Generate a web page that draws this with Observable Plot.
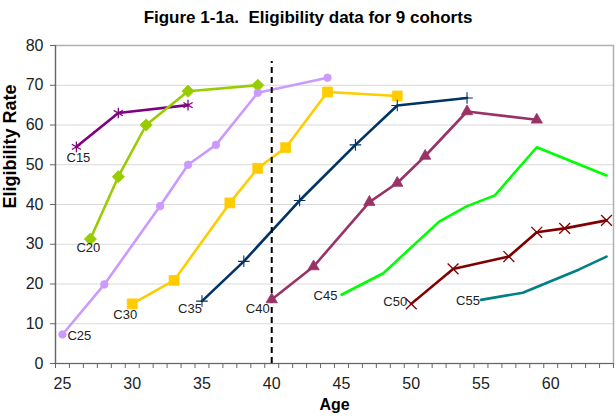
<!DOCTYPE html>
<html><head><meta charset="utf-8">
<script src="https://cdn.jsdelivr.net/npm/d3@7"></script>
<script src="https://cdn.jsdelivr.net/npm/@observablehq/plot@0.6"></script>
<style>
body{margin:0;background:#fff;font-family:"Liberation Sans",Arial,sans-serif;}
#title{width:616px;height:36px;line-height:36px;text-align:center;font-weight:bold;font-size:17px;color:#000;white-space:pre;}
</style></head><body>
<div id="title">Figure 1-1a.  Eligibility data for 9 cohorts</div>
<div id="chart"></div>
<script>
// ---- data ----
const cohorts = ["C15","C20","C25","C30","C35","C40","C45","C50","C55"];
const c15Age = [26, 29, 34];
const c15Rate = [54.5, 63, 65];
const c20Age = [27, 29, 31, 34, 39];
const c20Rate = [31.3, 47, 60, 68.5, 70];
const c25Age = [25, 28, 32, 34, 36, 39, 44];
const c25Rate = [7.3, 19.9, 39.6, 50, 55, 68.1, 71.9];
const c30Age = [30, 33, 37, 39, 41, 44, 49];
const c30Rate = [15, 20.9, 40.4, 49.1, 54.3, 68.3, 67.3];
const c35Age = [35, 38, 42, 46, 49, 54];
const c35Rate = [15.7, 25.7, 41, 55, 64.9, 66.8];
const c40Age = [40, 43, 47, 49, 51, 54, 59];
const c40Rate = [16.1, 24.4, 40.6, 45.4, 52.2, 63.4, 61.3];
const c45Age = [45, 48, 52, 54, 56, 59, 64];
const c45Rate = [17.3, 22.7, 35.7, 39.6, 42.3, 54.4, 47.3];
const c50Age = [50, 53, 57, 59, 61, 64];
const c50Rate = [15, 23.8, 26.9, 33, 34, 36];
const c55Age = [55, 58, 62, 64];
const c55Rate = [16, 17.8, 23.6, 26.9];
const xTickLabels = [25, 30, 35, 40, 45, 50, 55, 60];
const yTickLabels = [0, 10, 20, 30, 40, 50, 60, 70, 80];
const firstAge = 25, lastAge = 64;
const cutoffAge = 40;

// ---- build table ----
const ageArrays = [c15Age, c20Age, c25Age, c30Age, c35Age, c40Age, c45Age, c50Age, c55Age];
const rateArrays = [c15Rate, c20Rate, c25Rate, c30Rate, c35Rate, c40Rate, c45Rate, c50Rate, c55Rate];
const rows = cohorts.flatMap((c, k) => ageArrays[k].map((a, i) => ({cohort: c, age: a, rate: rateArrays[k][i]})));
const firsts = cohorts.map((c, k) => ({cohort: c, age: ageArrays[k][0], rate: rateArrays[k][0]}));
const boundaries = d3.range(firstAge - 0.5, lastAge + 1, 1);

// ---- styles ----
const colors = {C15:"#800080", C20:"#99CC00", C25:"#CC99FF", C30:"#FFCC00", C35:"#003366",
                C40:"#993366", C45:"#00FF00", C50:"#800000", C55:"#008080"};
const markers = {
  C15:{symbol:"asterisk", r:5, filled:false, sw:1.3},
  C20:{symbol:"diamond2", r:5.5, filled:true, sw:0.8},
  C25:{symbol:"circle", r:3.8, filled:true, sw:0.8},
  C30:{symbol:"square", r:5.6, filled:true, sw:0.8},
  C35:{symbol:"plus", r:3.8, filled:false, sw:1.1},
  C40:{symbol:"triangle", r:4.2, filled:true, sw:0.8},
  C50:{symbol:"times", r:5, filled:false, sw:1.3}
};
const labelPos = {
  C15:{dx:2, dy:11, anchor:"middle"},
  C20:{dx:-2, dy:9, anchor:"middle"},
  C25:{dx:5, dy:1, anchor:"start"},
  C30:{dx:-7, dy:11, anchor:"middle"},
  C35:{dx:0, dy:8, anchor:"end"},
  C40:{dx:-2, dy:9, anchor:"end"},
  C45:{dx:-4, dy:1, anchor:"end"},
  C50:{dx:-4, dy:-2, anchor:"end"},
  C55:{dx:-1, dy:1, anchor:"end"}
};

const marks = [
  Plot.ruleY(yTickLabels.filter(v => v > 0 && v < 80), {stroke:"#d9d9d9", strokeWidth:1}),
  Plot.frame({stroke:"#b0b0b0", strokeWidth:1.5}),
  Plot.ruleX([firstAge - 0.5], {stroke:"#666", strokeWidth:1.2}),
  Plot.ruleY([0], {stroke:"#666", strokeWidth:1.2}),
];
for (const c of cohorts) {
  const d = rows.filter(r => r.cohort === c);
  marks.push(Plot.line(d, {x:"age", y:"rate", stroke:colors[c], strokeWidth:2.6, strokeLinejoin:"round"}));
}
marks.push(Plot.ruleX([cutoffAge], {y1:0, y2:76, stroke:"#000", strokeWidth:2, strokeDasharray:"6,4"}));
for (const c of cohorts) {
  const m = markers[c];
  if (!m) continue;
  const d = rows.filter(r => r.cohort === c);
  marks.push(Plot.dot(d, {x:"age", y:"rate", symbol:m.symbol, r:m.r,
    fill: m.filled ? colors[c] : "none", stroke: colors[c], strokeWidth: m.sw}));
}
for (const c of cohorts) {
  const p = labelPos[c];
  marks.push(Plot.text(firsts.filter(f => f.cohort === c), {x:"age", y:"rate", text:"cohort",
    dx:p.dx, dy:p.dy, textAnchor:p.anchor, fontSize:13, fill:"#222"}));
}
marks.push(
  Plot.axisY({ticks: yTickLabels, tickSize:5, tickPadding:7, fontSize:16, label:null, stroke:"#666", color:"#222"}),
  Plot.axisX({ticks: boundaries, tickSize:5, tickFormat: () => "", label:null, stroke:"#666"}),
  Plot.axisX({ticks: xTickLabels, tickSize:0, tickPadding:14, fontSize:16, label:null, color:"#222", tickFormat: d => d}),
  Plot.text(["Age"], {frameAnchor:"bottom", dy:46, fontSize:16, fontWeight:"bold", fill:"#000"}),
  Plot.text(["Eligibility Rate"], {frameAnchor:"left", dx:-45, dy:4, rotate:-90, fontSize:18, fontWeight:"bold", fill:"#000"})
);

const chart = Plot.plot({
  width: 616,
  height: 383,
  marginTop: 9,
  marginBottom: 56,
  marginLeft: 55,
  marginRight: 3,
  style: {fontFamily: '"Liberation Sans", Arial, sans-serif', background: "#fff"},
  x: {type:"linear", domain:[firstAge - 0.5, lastAge + 0.5]},
  y: {domain:[0, 80]},
  marks
});
document.getElementById("chart").appendChild(chart);
</script>
</body></html>
